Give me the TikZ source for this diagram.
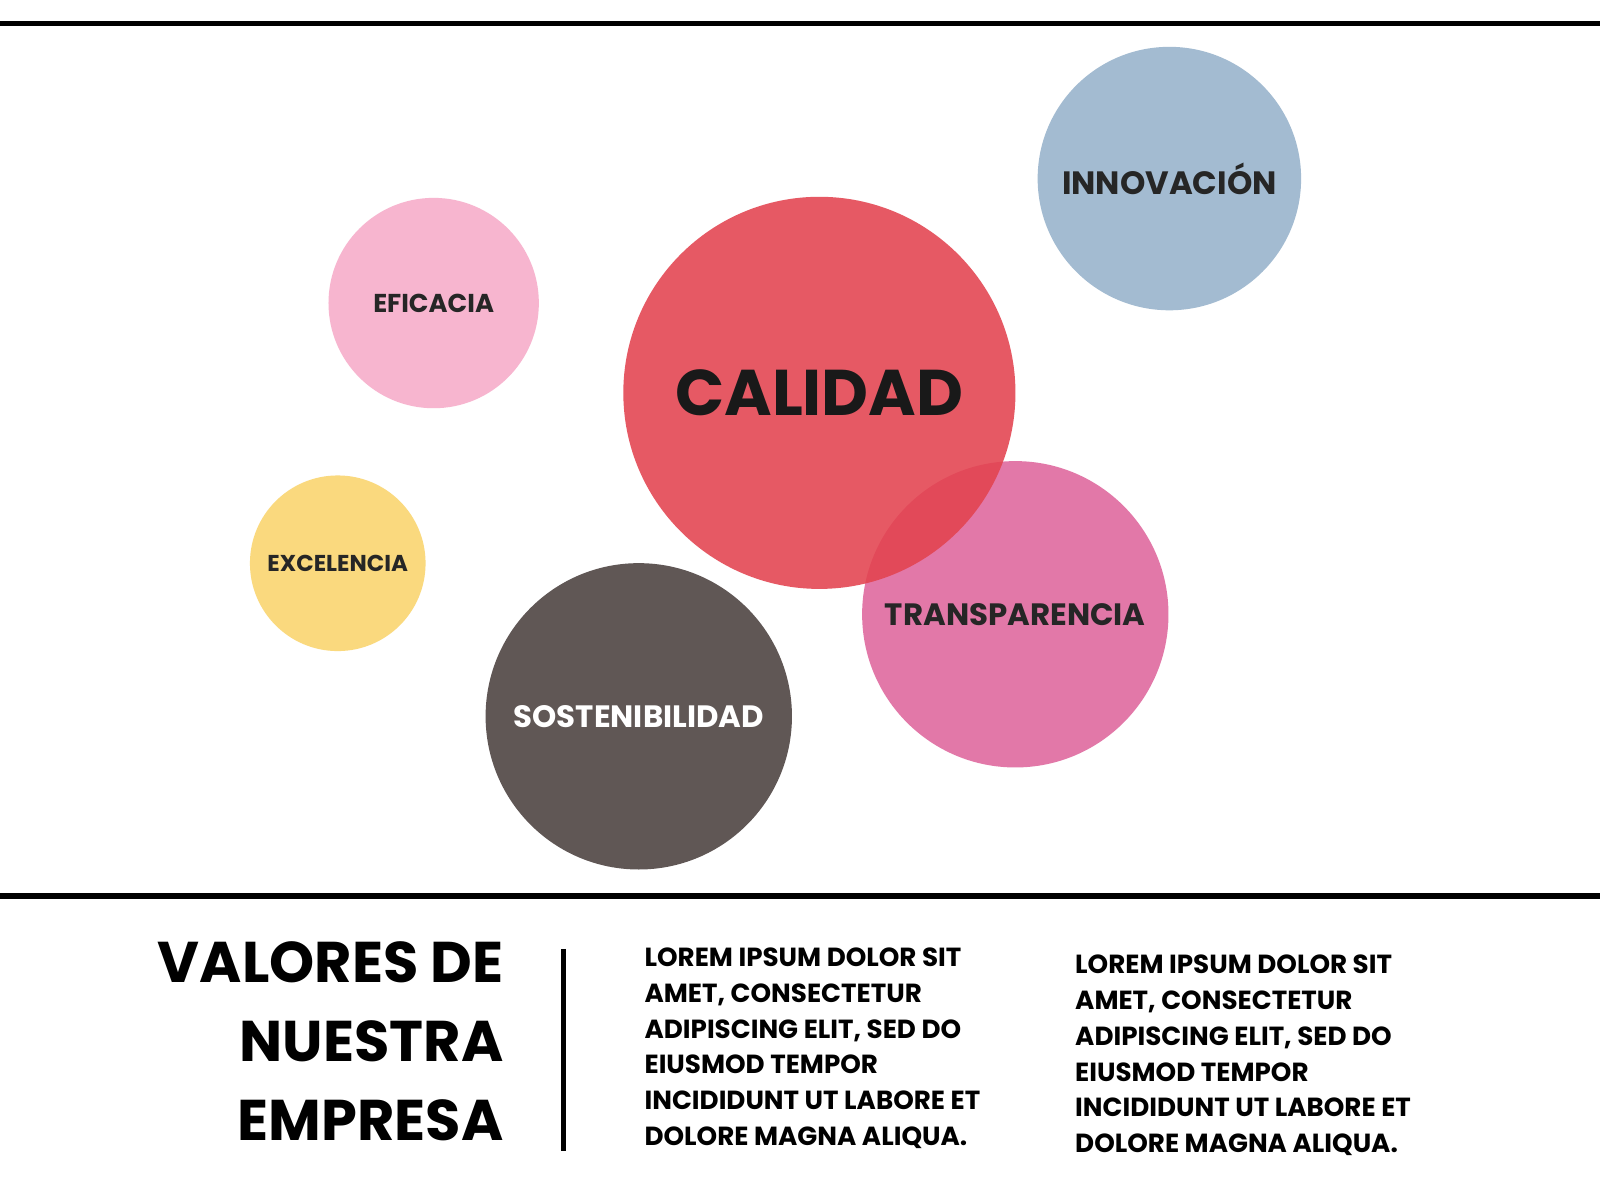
\documentclass[tikz,border=0pt]{standalone}
\usepackage{fontspec}
\setmainfont{Poppins}[UprightFont=* Bold, BoldFont=* Bold]
\begin{document}
\begin{tikzpicture}[x=0.01cm,y=-0.01cm,
  bub/.style={circle,inner sep=0pt,minimum size=#1*0.02cm},
  lbl/.style={text=black!85,font=\bfseries}]
\useasboundingbox (0,0) rectangle (1568,1176);
\fill[white] (0,0) rectangle (1568,1176);
\definecolor{cinn}{HTML}{A3BBD1}\definecolor{cefi}{HTML}{F7B5CF}
\definecolor{ccal}{HTML}{E3434F}\definecolor{cexc}{HTML}{FAD97E}
\definecolor{ctra}{HTML}{E278A8}\definecolor{csos}{HTML}{605755}
\draw[line width=1.6pt] (0,23) -- (1568,23);
\draw[line width=1.8pt] (0,878) -- (1568,878);
\node[bub=129,fill=cinn] (inn) at (1146,175) {};
\node[bub=103,fill=cefi] (efi) at (425,297) {};
\node[bub=86,fill=cexc] (exc) at (331,552) {};
\node[bub=150,fill=ctra] (tra) at (995,602) {};
\node[bub=150,fill=csos] (sos) at (626,702) {};
\node[bub=192,fill=ccal,fill opacity=0.88] (cal) at (803,385) {};
\node[lbl,font=\fontsize{9}{10}\selectfont] at (inn) {INNOVACIÓN};
\node[lbl,font=\fontsize{7.2}{9}\selectfont] at (efi) {EFICACIA};
\node[lbl,font=\fontsize{6.4}{8}\selectfont] at (exc) {EXCELENCIA};
\node[lbl,font=\fontsize{8.6}{10}\selectfont] at (tra) {TRANSPARENCIA};
\node[text=white,font=\fontsize{8.6}{10}\selectfont] at (sos) {SOSTENIBILIDAD};
\node[text=black!90,font=\fontsize{18}{20}\selectfont] at (cal.center) {CALIDAD};
\node[anchor=north east,align=right,font=\fontsize{16}{22}\selectfont,inner sep=0pt] (tit) at (494,922) {VALORES DE\\NUESTRA\\EMPRESA};
\draw[line width=1.5pt] (552,930) -- (552,1128);
\node[anchor=north west,align=left,font=\fontsize{7.3}{10}\selectfont,inner sep=0pt] (t1) at (631,928) {LOREM IPSUM DOLOR SIT\\AMET, CONSECTETUR\\ADIPISCING ELIT, SED DO\\EIUSMOD TEMPOR\\INCIDIDUNT UT LABORE ET\\DOLORE MAGNA ALIQUA.};
\node[anchor=north west,align=left,font=\fontsize{7.3}{10}\selectfont,inner sep=0pt] (t2) at (1053,935) {LOREM IPSUM DOLOR SIT\\AMET, CONSECTETUR\\ADIPISCING ELIT, SED DO\\EIUSMOD TEMPOR\\INCIDIDUNT UT LABORE ET\\DOLORE MAGNA ALIQUA.};
\end{tikzpicture}
\end{document}
